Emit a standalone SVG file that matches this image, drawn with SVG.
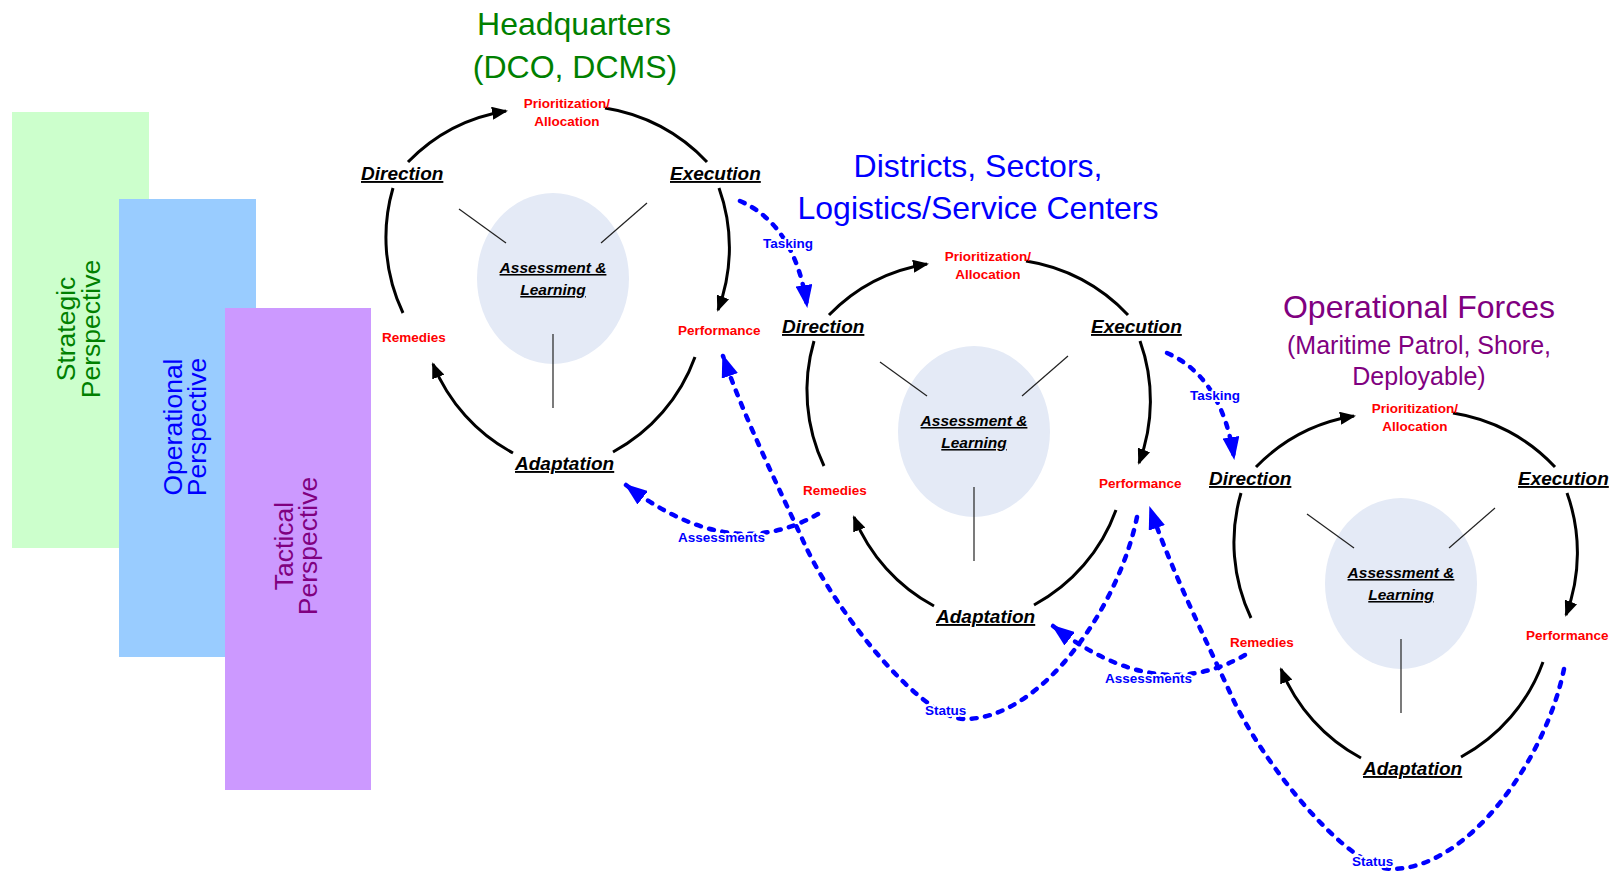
<svg xmlns="http://www.w3.org/2000/svg" width="1622" height="872" viewBox="0 0 1622 872">
<style>
text{font-family:"Liberation Sans",Arial,Helvetica,sans-serif}
.arc{fill:none;stroke:#000;stroke-width:3}
.spoke{stroke:#222;stroke-width:1.2}
.hub{fill:#E4EAF6}
.stage{font-size:19px;font-weight:bold;font-style:italic;text-decoration:underline;fill:#000}
.core{font-size:15.5px;font-weight:bold;font-style:italic;text-decoration:underline;fill:#000;text-anchor:middle}
.red{font-size:13.5px;font-weight:bold;fill:#FF0000}
.dash{fill:none;stroke:#0000FF;stroke-width:4.5;stroke-dasharray:5 8.5;stroke-linecap:round}
.blab{font-size:13.5px;font-weight:bold;fill:#0000FF;stroke:#fff;stroke-width:4;paint-order:stroke;stroke-linejoin:round}
.persp{font-size:26.5px;text-anchor:middle}
.title{font-size:32px;text-anchor:middle}
</style>
<defs>
<marker id="ak" viewBox="0 0 16 13" markerWidth="16" markerHeight="13" refX="14" refY="6.5" orient="auto" markerUnits="userSpaceOnUse"><path d="M0,0 L16,6.5 L0,13 z" fill="#000"/></marker>
<marker id="ab" viewBox="0 0 23 17" markerWidth="23" markerHeight="17" refX="21" refY="8.5" orient="auto" markerUnits="userSpaceOnUse"><path d="M0,0 L23,8.5 L0,17 z" fill="#0000FF"/></marker>
</defs>

<g id="perspectives">
<g id="strategic">
<rect x="12" y="112" width="137" height="436" fill="#CCFFCC"/>
<text class="persp" fill="#008000" transform="rotate(-90)"><tspan x="-329" y="75">Strategic</tspan><tspan x="-329" y="100">Perspective</tspan></text>
</g>
<g id="operational">
<rect x="119" y="199" width="137" height="458" fill="#99CCFF"/>
<text class="persp" fill="#0000FF" transform="rotate(-90)"><tspan x="-427" y="182">Operational</tspan><tspan x="-427" y="206">Perspective</tspan></text>
</g>
<g id="tactical">
<rect x="225" y="308" width="146" height="482" fill="#CC99FF"/>
<text class="persp" fill="#800080" transform="rotate(-90)"><tspan x="-546" y="293">Tactical</tspan><tspan x="-546" y="317">Perspective</tspan></text>
</g>
</g>

<g id="hq">
<text class="title" fill="#008000"><tspan x="574" y="35">Headquarters</tspan><tspan x="575" y="78">(DCO, DCMS)</tspan></text>
<ellipse class="hub" cx="553" cy="278.5" rx="76" ry="85.5"/>
<line class="spoke" x1="459" y1="209" x2="506" y2="243"/>
<line class="spoke" x1="647" y1="203" x2="601" y2="243"/>
<line class="spoke" x1="553" y1="334" x2="553" y2="408"/>
<path class="arc" marker-end="url(#ak)" d="M408,162 A176,176 0 0 1 506,111"/>
<path class="arc" d="M605,108 A176,176 0 0 1 707,162"/>
<path class="arc" marker-end="url(#ak)" d="M719,188 A176,176 0 0 1 718,310"/>
<path class="arc" d="M695,357 A176,176 0 0 1 613,452"/>
<path class="arc" marker-end="url(#ak)" d="M513,453 A176,176 0 0 1 433,364"/>
<path class="arc" d="M403,313 A176,176 0 0 1 393,188"/>
<text class="stage" x="361" y="180">Direction</text>
<text class="stage" x="670" y="180">Execution</text>
<text class="stage" x="515" y="470">Adaptation</text>
<text class="red" text-anchor="middle"><tspan x="567" y="108">Prioritization/</tspan><tspan x="567" y="126">Allocation</tspan></text>
<text class="red" x="382" y="342">Remedies</text>
<text class="red" x="678" y="335">Performance</text>
<text class="core"><tspan x="553" y="273">Assessment &amp;</tspan><tspan x="553" y="295">Learning</tspan></text>
</g>

<g id="districts">
<text class="title" fill="#0000FF"><tspan x="978" y="177">Districts, Sectors,</tspan><tspan x="978" y="219">Logistics/Service Centers</tspan></text>
<g transform="translate(421,153)">
<ellipse class="hub" cx="553" cy="278.5" rx="76" ry="85.5"/>
<line class="spoke" x1="459" y1="209" x2="506" y2="243"/>
<line class="spoke" x1="647" y1="203" x2="601" y2="243"/>
<line class="spoke" x1="553" y1="334" x2="553" y2="408"/>
<path class="arc" marker-end="url(#ak)" d="M408,162 A176,176 0 0 1 506,111"/>
<path class="arc" d="M605,108 A176,176 0 0 1 707,162"/>
<path class="arc" marker-end="url(#ak)" d="M719,188 A176,176 0 0 1 718,310"/>
<path class="arc" d="M695,357 A176,176 0 0 1 613,452"/>
<path class="arc" marker-end="url(#ak)" d="M513,453 A176,176 0 0 1 433,364"/>
<path class="arc" d="M403,313 A176,176 0 0 1 393,188"/>
<text class="stage" x="361" y="180">Direction</text>
<text class="stage" x="670" y="180">Execution</text>
<text class="stage" x="515" y="470">Adaptation</text>
<text class="red" text-anchor="middle"><tspan x="567" y="108">Prioritization/</tspan><tspan x="567" y="126">Allocation</tspan></text>
<text class="red" x="382" y="342">Remedies</text>
<text class="red" x="678" y="335">Performance</text>
<text class="core"><tspan x="553" y="273">Assessment &amp;</tspan><tspan x="553" y="295">Learning</tspan></text>
</g>
</g>

<g id="forces">
<text class="title" fill="#800080"><tspan x="1419" y="318">Operational Forces</tspan><tspan x="1419" y="354" font-size="25">(Maritime Patrol, Shore,</tspan><tspan x="1419" y="385" font-size="25">Deployable)</tspan></text>
<g transform="translate(848,305)">
<ellipse class="hub" cx="553" cy="278.5" rx="76" ry="85.5"/>
<line class="spoke" x1="459" y1="209" x2="506" y2="243"/>
<line class="spoke" x1="647" y1="203" x2="601" y2="243"/>
<line class="spoke" x1="553" y1="334" x2="553" y2="408"/>
<path class="arc" marker-end="url(#ak)" d="M408,162 A176,176 0 0 1 506,111"/>
<path class="arc" d="M605,108 A176,176 0 0 1 707,162"/>
<path class="arc" marker-end="url(#ak)" d="M719,188 A176,176 0 0 1 718,310"/>
<path class="arc" d="M695,357 A176,176 0 0 1 613,452"/>
<path class="arc" marker-end="url(#ak)" d="M513,453 A176,176 0 0 1 433,364"/>
<path class="arc" d="M403,313 A176,176 0 0 1 393,188"/>
<text class="stage" x="361" y="180">Direction</text>
<text class="stage" x="670" y="180">Execution</text>
<text class="stage" x="515" y="470">Adaptation</text>
<text class="red" text-anchor="middle"><tspan x="567" y="108">Prioritization/</tspan><tspan x="567" y="126">Allocation</tspan></text>
<text class="red" x="382" y="342">Remedies</text>
<text class="red" x="678" y="335">Performance</text>
<text class="core"><tspan x="553" y="273">Assessment &amp;</tspan><tspan x="553" y="295">Learning</tspan></text>
</g>
</g>

<g id="connectors">
<path class="dash" marker-end="url(#ab)" d="M740,201 Q795,225 807,306"/>
<text class="blab" x="763" y="248">Tasking</text>
<path class="dash" marker-end="url(#ab)" d="M1167,353 Q1222,377 1234,458"/>
<text class="blab" x="1190" y="400">Tasking</text>
<path class="dash" marker-end="url(#ab)" d="M818,514 Q730,565 626,485"/>
<path class="dash" marker-end="url(#ab)" d="M1245,655 Q1157,706 1053,626"/>
<path class="dash" marker-end="url(#ab)" d="M1137,517 C1118,610 1040,719 965,719 C920,719 835,610 805,545 C780,490 745,420 723,356"/>
<path class="dash" marker-end="url(#ab)" d="M1564,669 C1545,762 1467,869 1392,869 C1347,869 1262,762 1232,697 C1207,642 1172,572 1150,508"/>
<text class="blab" x="678" y="542">Assessments</text>
<text class="blab" x="1105" y="683">Assessments</text>
<text class="blab" x="925" y="715">Status</text>
<text class="blab" x="1352" y="866">Status</text>
</g>
</svg>
